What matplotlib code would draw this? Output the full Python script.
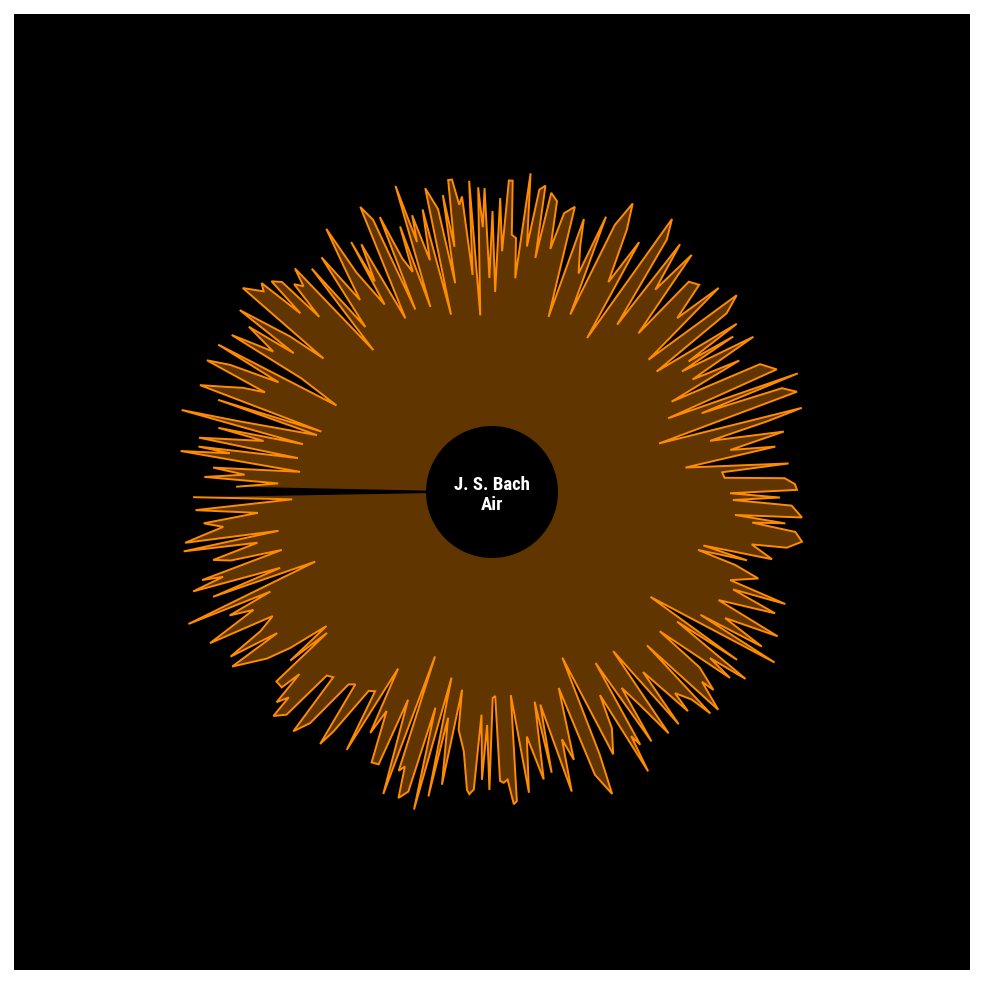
import numpy as np
import matplotlib
matplotlib.use("Agg")
import matplotlib.pyplot as plt
from matplotlib.patches import Circle

# position along the piece (degrees around the circle, starting at 9 o'clock)
position_deg = [
    1.0, 2.1, 3.5, 5.1, 6.2, 7.4, 8.5, 9.4, 10.3,
    10.9, 12.2, 13.7, 14.7, 15.4, 16.9, 17.5, 18.4, 19.7,
    20.6, 21.5, 23.5, 24.2, 25.2, 26.3, 28.2, 29.5,
    31.0, 32.2, 33.3, 33.9, 35.4, 36.5, 37.7, 39.0, 39.9,
    40.5, 41.3, 42.9, 43.4, 44.3, 45.3, 45.7, 47.3, 48.0, 49.4,
    50.3, 51.8, 53.3, 54.6, 55.7, 56.5, 58.2, 59.6,
    60.6, 62.0, 63.2, 64.3, 66.0, 67.4, 68.0, 69.0,
    70.2, 70.9, 71.5, 72.4, 73.0, 74.4, 75.3, 76.2, 77.7, 78.2, 79.0,
    80.3, 81.4, 82.0, 83.8, 85.2, 85.7, 86.5, 87.3, 88.0, 88.8, 89.5,
    90.2, 90.9, 91.6, 92.3, 93.1, 94.0, 94.6, 95.3, 97.0, 98.1,
    100.2, 101.5, 102.0, 102.8, 104.9, 105.8, 107.0, 108.8,
    110.0, 111.7, 112.3, 113.0, 114.8, 116.9, 118.0, 119.2, 119.7,
    120.4, 121.2, 122.6, 123.5, 124.8, 126.2, 127.3, 128.8,
    130.0, 131.8, 132.3, 133.9, 134.6, 135.3, 136.1, 137.9, 138.2, 139.8,
    140.3, 142.0, 142.7, 143.6, 145.0, 145.6, 146.5, 148.9, 149.5,
    150.2, 151.6, 153.2, 154.5, 156.8, 158.0, 159.1, 159.7,
    162.0, 163.3, 164.3, 165.0, 165.8, 166.5, 168.6, 169.3,
    170.9, 172.5, 173.3, 173.9, 174.6, 175.3, 177.4, 178.1, 178.9, 179.7,
    180.4, 181.5, 182.7, 183.5, 184.9, 185.5, 187.2, 189.1,
    190.0, 191.7, 193.2, 194.4, 195.2, 196.2, 198.2, 199.7,
    200.6, 201.2, 202.7, 203.3, 205.5, 206.7, 208.0, 209.3,
    210.7, 212.4, 212.8, 213.6, 214.5, 216.2, 217.3, 218.8,
    220.2, 222.0, 223.2, 225.0, 226.9, 227.3, 229.9,
    231.1, 232.8, 233.2, 235.3, 236.6, 238.3, 239.5,
    241.0, 242.8, 244.0, 245.3, 246.2, 247.5, 248.4,
    250.3, 251.4, 252.1, 253.8, 255.5, 256.5, 257.4, 258.8, 259.5,
    260.1, 261.1, 261.9, 263.1, 263.8, 264.6, 265.6, 266.2, 266.9, 267.6, 268.4, 269.1, 269.9,
    270.7, 271.4, 272.0, 272.6, 273.8, 274.2, 275.1, 275.8, 276.5, 277.3, 278.0, 278.7, 279.4,
    280.0, 280.8, 282.4, 283.0, 283.8, 285.0, 286.1, 286.7, 287.5, 288.4, 289.1, 289.8,
    291.0, 292.2, 292.8, 293.6, 294.8, 296.5, 297.8, 299.1, 299.4, 299.8,
    301.7, 302.2, 303.3, 304.5, 306.0, 307.5, 308.9, 309.9,
    311.4, 312.5, 313.6, 314.6, 315.0, 316.3, 317.0, 317.8, 318.7,
    320.7, 321.6, 322.4, 324.2, 325.0, 325.8, 327.3, 328.9, 329.2,
    330.9, 331.7, 332.8, 334.1, 335.2, 336.3, 337.3, 338.5, 339.9,
    340.5, 341.4, 342.0, 344.4, 345.2, 345.8, 346.8, 347.4, 349.5,
    350.1, 351.2, 351.6, 352.5, 354.0, 355.0, 356.0, 357.0, 357.7, 358.8,
]

# amplitude at each position
amplitude = [
    298, 200, 297, 235, 290, 271, 292, 311, 217,
    314, 240, 287, 270, 218, 303, 282, 315, 225,
    298, 190, 331, 243, 290, 266, 320, 252,
    270, 309, 257, 313, 293, 280, 255, 213, 263,
    217, 287, 287, 265, 301, 289, 313, 303, 247, 244,
    311, 294, 240, 236, 305, 287, 234, 231,
    296, 200, 270, 243, 296, 295, 224, 260,
    321, 174, 294, 288, 320, 311, 223, 327, 190, 311, 230,
    297, 200, 240, 261, 299, 303, 298, 223, 288, 233, 298,
    206, 204, 289, 291, 288, 313, 310, 204, 303, 247,
    292, 214, 287, 218, 310, 257, 280, 207,
    301, 325, 284, 180, 289, 265, 230, 320, 281,
    293, 200, 296, 235, 260, 299, 200, 298,
    235, 294, 272, 288, 311, 218, 314, 283, 297, 272,
    218, 302, 274, 315, 226, 297, 190, 330, 242,
    311, 265, 320, 251, 308, 260, 314, 254,
    280, 254, 214, 264, 218, 288, 265, 300,
    314, 306, 262, 295, 244, 311, 300, 241, 288, 238,
    305, 303, 293, 233, 231, 298, 195, 287,
    242, 298, 224, 284, 321, 174, 321, 308,
    224, 328, 191, 310, 297, 201, 280, 230,
    304, 225, 287, 236, 297, 204, 295, 314,
    205, 305, 254, 293, 288, 216, 310,
    260, 311, 209, 307, 327, 181, 290,
    240, 295, 321, 294, 194, 298, 235,
    262, 288, 184, 297, 288, 250, 298, 305, 238,
    311, 306, 248, 321, 215, 255, 258, 312, 312, 241, 294, 200, 281,
    214, 304, 265, 305, 177, 312, 218, 297, 289, 315, 315, 248, 301,
    212, 288, 311, 182, 291, 240, 288, 261, 321, 195, 281, 234,
    250, 297, 198, 297, 314, 194, 280, 241, 287, 216,
    258, 311, 270, 233, 290, 208, 287, 185,
    298, 279, 287, 246, 297, 305, 262, 311, 304,
    322, 215, 255, 311, 242, 294, 260, 304, 222,
    178, 311, 240, 291, 314, 248, 270, 287, 311,
    181, 289, 184, 264, 321, 195, 281, 234, 298,
    197, 297, 265, 314, 193, 280, 248, 288, 214, 255,
]

title_lines = ["J. S. Bach", "Air"]

W = 984
fig = plt.figure(figsize=(W / 100, W / 100), dpi=100, facecolor="white")

bg = fig.add_axes([14 / W, 14 / W, 956 / W, 956 / W])
bg.set_facecolor("black")
bg.set_xticks([])
bg.set_yticks([])
for s in bg.spines.values():
    s.set_visible(False)

R = 345
ax = fig.add_axes([0.5 - R / W, 0.5 - R / W, 2 * R / W, 2 * R / W], projection="polar")
ax.set_theta_zero_location("W")
ax.set_theta_direction(1)
ax.set_ylim(0, R)
ax.patch.set_alpha(0)
ax.axis("off")

theta = np.deg2rad(np.array(position_deg))
r = np.array(amplitude, dtype=float)

ft = np.concatenate([[theta[0]], theta, [theta[-1]]])
fr = np.concatenate([[0.0], r, [0.0]])
ax.fill(ft, fr, color="#ff8c00", alpha=0.38, lw=0, zorder=2)
ax.plot(theta, r, color="#ff8c00", lw=1.4, solid_joinstyle="miter", zorder=3)

ax.add_patch(Circle((0.5, 0.5), 66 / (2 * R), transform=ax.transAxes,
                    facecolor="black", edgecolor="none", zorder=4))

fam = ["Roboto Condensed", "DejaVu Sans"]
for txt, ypix in zip(title_lines, [485, 505]):
    fig.text(0.5, 1 - ypix / W, txt, ha="center", va="center", color="white",
             fontsize=13.5, fontweight="bold", fontstretch="condensed",
             family=fam, zorder=5)

fig.savefig("out.png", dpi=100, facecolor="white")
